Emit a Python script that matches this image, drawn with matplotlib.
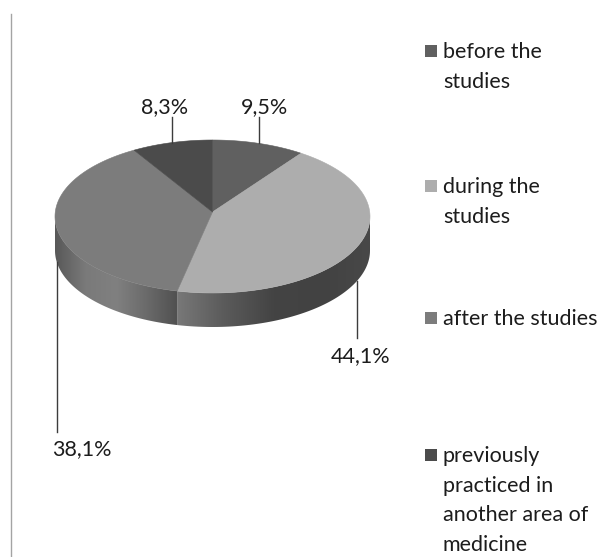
import numpy as np
import matplotlib
matplotlib.use('Agg')
import matplotlib.pyplot as plt
from matplotlib.colors import LinearSegmentedColormap
from matplotlib.patches import Polygon, Rectangle

plt.rcParams['font.family'] = ['Lato', 'DejaVu Sans']

categories = ['before the\nstudies', 'during the\nstudies', 'after the studies',
              'previously\npracticed in\nanother area of\nmedicine']
values = [9.5, 44.1, 38.1, 8.3]
value_labels = ['9,5%', '44,1%', '38,1%', '8,3%']
colors = ['#606060', '#adadad', '#7c7c7c', '#4b4b4b']

# pie geometry in pixels
cx, cy = 212.5, 216.5
rx, ry = 157.5, 76.5
apex_y = 212
depth = 34

fig = plt.figure(figsize=(6.05, 5.57), dpi=100)
ax = fig.add_axes([0, 0, 1, 1])


def ell(a, dy=0.0):
    # a is degrees clockwise from the top
    a = np.radians(a)
    return cx + rx * np.sin(a), cy - ry * np.cos(a) + dy


def side_patch(a0, a1):
    a = np.linspace(a0, a1, 120)
    x, y = ell(a)
    xb, yb = ell(a[::-1], depth)
    return np.r_[x, xb], np.r_[y, yb]


shares = np.array(values) / sum(values) * 360
starts = np.r_[0, np.cumsum(shares)[:-1]]
ends = starts + shares

# sides of the two front slices, shaded from left to right
side_colors = {
    1: ['#787878', '#5a5a5a', '#444444', '#424242', '#484848'],
    2: ['#585858', '#7a7a7a', '#808080', '#6a6a6a', '#505050'],
}
for i, stops in side_colors.items():
    a0 = max(starts[i], 90)
    a1 = min(ends[i], 270)
    px, py = side_patch(a0, a1)
    cmap = LinearSegmentedColormap.from_list('side', stops)
    im = ax.imshow(np.linspace(0, 1, 256)[None, :], cmap=cmap, aspect='auto', zorder=1,
                   extent=(px.min(), px.max(), py.max(), py.min()))
    clip = Polygon(np.c_[px, py], closed=True, transform=ax.transData, fc='none', ec='none')
    ax.add_patch(clip)
    im.set_clip_path(clip)

# top of the pie
for s, e, c in zip(starts, ends, colors):
    a = np.linspace(s, e, 120)
    x, y = ell(a)
    ax.add_patch(Polygon(np.c_[np.r_[cx, x], np.r_[apex_y, y]], closed=True,
                         fc=c, ec=c, lw=0.4, zorder=2))

# leader lines and labels
mids = (starts + ends) / 2
line_ends = [117, 338, 432, 117]
label_y = [107, 356, 449, 107]
label_dx = [6, 4, 25, -7]
for i, m in enumerate(mids):
    lx, ly = ell(m, depth if 90 < m < 270 else 0)
    ax.plot([lx, lx], [ly, line_ends[i]], color='#3c3c3c', lw=1.0, zorder=3)
    ax.text(lx + label_dx[i], label_y[i], value_labels[i], ha='center', va='center',
            fontsize=15.5, color='#1c1c1c')

# legend
legend_y = [51, 186, 318, 455]
for name, c, ly in zip(categories, colors, legend_y):
    ax.add_patch(Rectangle((425, ly - 6), 12, 12, fc=c, ec='none'))
    ax.text(443, ly - 9, name, ha='left', va='top', fontsize=15.5, color='#1c1c1c',
            linespacing=1.6)

# frame line at the left
ax.plot([11, 11], [14, 557], color='#a4a4a4', lw=1.0)

ax.set_xlim(0, 605)
ax.set_ylim(557, 0)
ax.axis('off')
fig.savefig('out.png', dpi=100)
